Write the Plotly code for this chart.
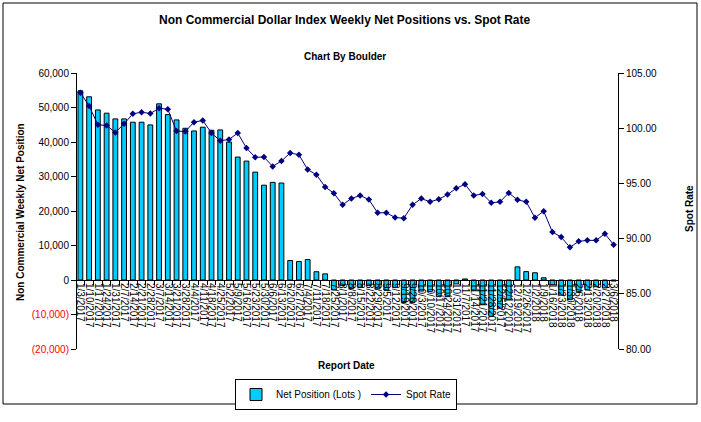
import plotly.graph_objects as go

report_dates = [
    "1/3/2017", "1/10/2017", "1/17/2017", "1/24/2017", "1/31/2017", "2/7/2017", "2/14/2017",
    "2/21/2017", "2/28/2017", "3/7/2017", "3/14/2017", "3/21/2017", "3/28/2017", "4/4/2017",
    "4/11/2017", "4/18/2017", "4/25/2017", "5/2/2017", "5/9/2017", "5/16/2017", "5/23/2017",
    "5/30/2017", "6/6/2017", "6/13/2017", "6/20/2017", "6/27/2017", "7/4/2017", "7/11/2017",
    "7/18/2017", "7/25/2017", "8/1/2017", "8/8/2017", "8/15/2017", "8/22/2017", "8/29/2017",
    "9/5/2017", "9/12/2017", "9/19/2017", "9/26/2017", "10/3/2017", "10/10/2017", "10/17/2017",
    "10/24/2017", "10/31/2017", "11/7/2017", "11/14/2017", "11/21/2017", "11/28/2017",
    "12/5/2017", "12/12/2017", "12/19/2017", "12/26/2017", "1/2/2018", "1/9/2018", "1/16/2018",
    "1/23/2018", "1/30/2018", "2/6/2018", "2/13/2018", "2/20/2018", "2/27/2018", "3/6/2018",
]

net_position = [
    54850, 53100, 49300, 48350, 46700, 46700, 45730, 45730, 44950, 51060,
    47950, 46400, 43980, 43200, 44280, 43400, 43500, 40000, 35630, 34470,
    31270, 27480, 28300, 28100, 5650, 5360, 5940, 2400, 1780, -2900,
    -1630, -2500, -2120, -1630, -2600, -3000, -2200, -6500, -6500, -3200,
    -3300, -4830, -4830, -1140, 300, -2900, -7000, -10500, -8200, -5600,
    3800, 2430, 2100, 650, -1350, -4400, -5700, -3400, -2900, -1950,
    -2300, -300,
]

spot_rate = [
    103.22, 102.02, 100.31, 100.25, 99.61, 100.40, 101.30, 101.45, 101.33, 101.81,
    101.72, 99.74, 99.70, 100.55, 100.70, 99.56, 98.86, 98.98, 99.56, 98.20,
    97.36, 97.39, 96.54, 97.03, 97.75, 97.60, 96.25, 95.79, 94.68, 94.11,
    93.06, 93.63, 93.90, 93.54, 92.34, 92.34, 91.91, 91.85, 93.06, 93.63,
    93.33, 93.57, 93.99, 94.56, 94.92, 93.90, 94.05, 93.24, 93.33, 94.14,
    93.51, 93.33, 91.89, 92.48, 90.59, 90.14, 89.21, 89.75, 89.84, 89.84,
    90.44, 89.45,
]

left_tick_vals = [60000, 50000, 40000, 30000, 20000, 10000, 0, -10000, -20000]
left_tick_text = ["60,000", "50,000", "40,000", "30,000", "20,000", "10,000", "0",
                  "<span style='color:#FF0000'>(10,000)</span>",
                  "<span style='color:#FF0000'>(20,000)</span>"]
right_tick_vals = [105, 100, 95, 90, 85, 80]
right_tick_text = ["105.00", "100.00", "95.00", "90.00", "85.00", "80.00"]

W, H = 701, 422
L, R, T, B = 76, 618, 73, 349


def px(x):
    return (x - L) / (R - L)


def py(y):
    return (B - y) / (B - T)


FONT = "Liberation Sans, Arial, sans-serif"

fig = go.Figure()
fig.add_trace(go.Bar(
    x=report_dates, y=net_position, name="Net Position (Lots )",
    marker=dict(color="#00CCFF", line=dict(color="black", width=1)),
    yaxis="y",
))
fig.add_trace(go.Scatter(
    x=report_dates, y=spot_rate, name="Spot Rate", mode="lines+markers",
    line=dict(color="#000080", width=1),
    marker=dict(symbol="diamond", size=5, color="#000080"),
    yaxis="y2", cliponaxis=False,
))

fig.update_layout(
    width=W, height=H,
    margin=dict(l=L, r=W - R, t=T, b=H - B, pad=0, autoexpand=False),
    paper_bgcolor="white", plot_bgcolor="white",
    font=dict(family=FONT, size=10, color="black"),
    bargap=0.45,
    showlegend=True,
    legend=dict(orientation="h", xref="container", yref="container",
                x=346 / W, xanchor="center", y=1 - 379 / H, yanchor="top",
                bordercolor="black", borderwidth=1, font=dict(size=10),
                itemwidth=30, tracegroupgap=0),
    xaxis=dict(
        type="category", anchor="free", position=0.25, automargin=False,
        domain=[0, 1], range=[-0.5, len(report_dates) - 0.5], autorange=False,
        tickmode="array", tickvals=report_dates, ticktext=report_dates,
        tickangle=90, tickfont=dict(size=10), tickson="boundaries",
        ticks="outside", ticklen=4, tickcolor="black",
        showline=True, linecolor="black", linewidth=1,
        showgrid=False, zeroline=False,
    ),
    yaxis=dict(
        range=[-20000, 60000], tickmode="array", tickvals=left_tick_vals, ticktext=left_tick_text,
        anchor="free", position=0, domain=[0, 1],
        ticks="outside", ticklen=5, tickcolor="black", automargin=False,
        showline=True, linecolor="black", linewidth=1,
        showgrid=False, zeroline=False, tickfont=dict(size=10),
    ),
    yaxis2=dict(
        range=[80, 105], overlaying="y", side="right", automargin=False,
        anchor="free", position=1,
        tickmode="array", tickvals=right_tick_vals, ticktext=right_tick_text,
        ticks="outside", ticklen=5, tickcolor="black",
        showline=True, linecolor="black", linewidth=1,
        showgrid=False, zeroline=False, tickfont=dict(size=10),
    ),
    shapes=[dict(type="rect", xref="paper", yref="paper",
                 x0=px(3), x1=px(697), y0=py(404), y1=py(3),
                 line=dict(color="black", width=1), layer="below")],
    annotations=[
        dict(text="<b>Non Commercial Dollar Index Weekly Net Positions vs. Spot Rate</b>",
             xref="paper", yref="paper", x=px(345), y=py(20), showarrow=False,
             font=dict(size=12), xanchor="center", yanchor="middle"),
        dict(text="<b>Chart By Boulder</b>", xref="paper", yref="paper",
             x=px(345), y=py(57), showarrow=False, font=dict(size=10),
             xanchor="center", yanchor="middle"),
        dict(text="<b>Report Date</b>", xref="paper", yref="paper",
             x=px(346), y=py(365), showarrow=False, font=dict(size=10),
             xanchor="center", yanchor="middle"),
        dict(text="<b>Non Commercial Weekly Net Position</b>", xref="paper", yref="paper",
             x=px(20), y=py(212), showarrow=False, font=dict(size=10), textangle=-90,
             xanchor="center", yanchor="middle"),
        dict(text="<b>Spot Rate</b>", xref="paper", yref="paper",
             x=px(689), y=py(208), showarrow=False, font=dict(size=10), textangle=-90,
             xanchor="center", yanchor="middle"),
    ],
)

fig.write_html("out.html", config={"displayModeBar": False},
               post_script="document.body.style.margin='0px';")
